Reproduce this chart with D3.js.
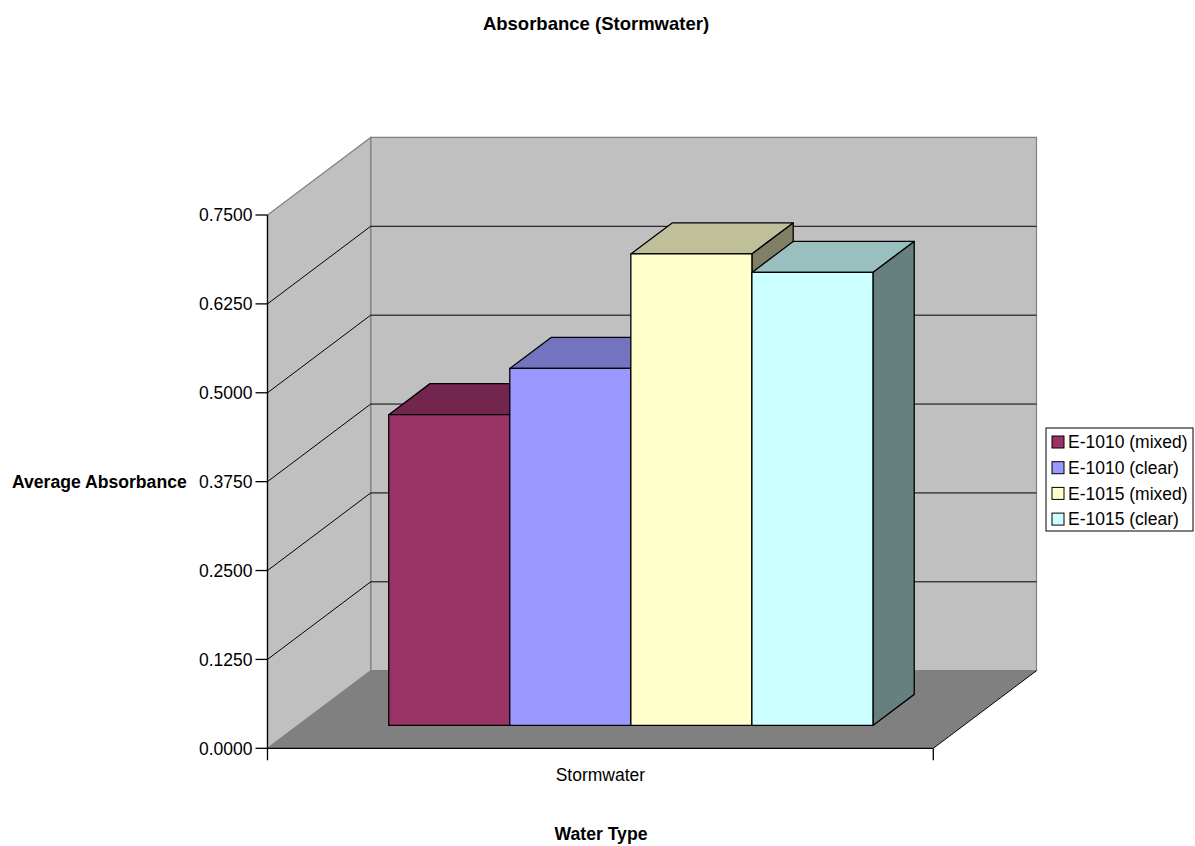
<!DOCTYPE html>
<html>
<head>
<meta charset="utf-8">
<script src="https://cdn.jsdelivr.net/npm/d3@7"></script>
<style>
  html, body { margin: 0; padding: 0; background: #ffffff; }
  svg { display: block; }
  text { font-family: "Liberation Sans", Arial, sans-serif; fill: #000; }
</style>
</head>
<body>
<svg id="chart" width="1195" height="846"></svg>
<script>
// ---- data ----
const categories = ["Stormwater"];
const seriesNames = ["E-1010 (mixed)", "E-1010 (clear)", "E-1015 (mixed)", "E-1015 (clear)"];
const seriesValues = [0.437, 0.502, 0.663, 0.637];
const seriesColors = ["#993366", "#9999FF", "#FFFFCC", "#CCFFFF"];
const yTicks = [0, 0.125, 0.25, 0.375, 0.5, 0.625, 0.75];
const chartTitle = "Absorbance (Stormwater)";
const xTitle = "Water Type";
const yTitle = "Average Absorbance";

// ---- geometry of the 3D box ----
const frontLeft = 267.5, frontRight = 933.3;
const frontBottom = 748.3, frontTop = 215;
const depthDX = 103.2, depthDY = -77.6;   // full depth offset
const barZ0 = 0.295, barZ1 = 0.695;       // bar depth span (fraction of depth)

const svg = d3.select("#chart");

const y = d3.scaleLinear().domain([0, 0.75]).range([frontBottom, frontTop]);
const xCat = d3.scaleBand().domain(categories).range([frontLeft, frontRight]).padding(0);
const xSer = d3.scaleBand().domain(seriesNames)
  .range([xCat(categories[0]), xCat(categories[0]) + xCat.bandwidth()])
  .paddingInner(0).paddingOuter(0.75);

// project a point (screen x on the front plane, value, depth fraction)
const P = (x, v, z) => [x + depthDX * z, y(v) - depthDY * -z];
const pts = arr => arr.map(p => p.join(",")).join(" ");

const WALL = "#C0C0C0", FLOOR = "#808080", EDGE = "#808080";

// back wall
svg.append("polygon")
  .attr("points", pts([P(frontLeft, 0, 1), P(frontLeft, 0.75, 1), P(frontRight, 0.75, 1), P(frontRight, 0, 1)]))
  .attr("fill", WALL).attr("stroke", EDGE).attr("stroke-width", 1.2);

// side wall
svg.append("polygon")
  .attr("points", pts([P(frontLeft, 0, 0), P(frontLeft, 0.75, 0), P(frontLeft, 0.75, 1), P(frontLeft, 0, 1)]))
  .attr("fill", WALL).attr("stroke", EDGE).attr("stroke-width", 1.2);

// gridlines on both walls
const grid = yTicks.filter(t => t > 0 && t < 0.75);
svg.append("g").selectAll("polyline").data(grid).join("polyline")
  .attr("points", t => pts([P(frontLeft, t, 0), P(frontLeft, t, 1), P(frontRight, t, 1)]))
  .attr("fill", "none").attr("stroke", "#000").attr("stroke-width", 1);

// floor
svg.append("polygon")
  .attr("points", pts([P(frontLeft, 0, 0), P(frontLeft, 0, 1), P(frontRight, 0, 1), P(frontRight, 0, 0)]))
  .attr("fill", FLOOR).attr("stroke", "none");
svg.append("polyline")
  .attr("points", pts([P(frontRight, 0, 0), P(frontRight, 0, 1)]))
  .attr("fill", "none").attr("stroke", "#000").attr("stroke-width", 1);

// bars
const shade = (c, k) => { const o = d3.rgb(c); return d3.rgb(o.r * k, o.g * k, o.b * k).formatHex(); };
const bars = svg.append("g");
seriesNames.forEach((s, i) => {
  const v = seriesValues[i];
  const x0 = xSer(s), x1 = x0 + xSer.bandwidth();
  const g = bars.append("g").attr("stroke", "#000").attr("stroke-width", 1.3).attr("stroke-linejoin", "round");
  // top face
  g.append("polygon")
    .attr("points", pts([P(x0, v, barZ0), P(x0, v, barZ1), P(x1, v, barZ1), P(x1, v, barZ0)]))
    .attr("fill", shade(seriesColors[i], 0.75));
  // right side face
  g.append("polygon")
    .attr("points", pts([P(x1, 0, barZ0), P(x1, v, barZ0), P(x1, v, barZ1), P(x1, 0, barZ1)]))
    .attr("fill", shade(seriesColors[i], 0.5));
  // front face
  g.append("polygon")
    .attr("points", pts([P(x0, 0, barZ0), P(x0, v, barZ0), P(x1, v, barZ0), P(x1, 0, barZ0)]))
    .attr("fill", seriesColors[i]);
});

// axes
const axes = svg.append("g").attr("stroke", "#000").attr("stroke-width", 1.3);
axes.append("line").attr("x1", frontLeft).attr("x2", frontLeft).attr("y1", y(0.75)).attr("y2", y(0));
axes.append("line").attr("x1", frontLeft).attr("x2", frontRight).attr("y1", y(0)).attr("y2", y(0));
axes.selectAll(".ytick").data(yTicks).join("line")
  .attr("x1", frontLeft - 12).attr("x2", frontLeft).attr("y1", d => y(d)).attr("y2", d => y(d));
[frontLeft, frontRight].forEach(xx => {
  axes.append("line").attr("x1", xx).attr("x2", xx).attr("y1", y(0)).attr("y2", y(0) + 12);
});

// tick labels
svg.append("g").selectAll("text").data(yTicks).join("text")
  .attr("x", frontLeft - 15).attr("y", d => y(d)).attr("dy", "0.36em")
  .attr("text-anchor", "end").attr("font-size", 17.5)
  .text(d => d.toFixed(4));

svg.append("text")
  .attr("x", xCat(categories[0]) + xCat.bandwidth() / 2).attr("y", 781)
  .attr("text-anchor", "middle").attr("font-size", 17.5)
  .text(categories[0]);

// titles
svg.append("text").attr("x", 596).attr("y", 30).attr("text-anchor", "middle")
  .attr("font-size", 18.5).attr("font-weight", "bold").text(chartTitle);
svg.append("text").attr("x", 601).attr("y", 840).attr("text-anchor", "middle")
  .attr("font-size", 17.6).attr("font-weight", "bold").text(xTitle);
svg.append("text").attr("x", 12).attr("y", (y(0) + y(0.75)) / 2).attr("dy", "0.36em")
  .attr("font-size", 17.6).attr("font-weight", "bold").text(yTitle);

// legend
const legend = svg.append("g");
legend.append("rect").attr("x", 1046).attr("y", 428).attr("width", 147).attr("height", 103)
  .attr("fill", "#fff").attr("stroke", "#000").attr("stroke-width", 1);
const row = legend.selectAll("g.row").data(seriesNames).join("g")
  .attr("transform", (d, i) => `translate(0, ${442 + i * 25.7})`);
row.append("rect").attr("x", 1052).attr("y", -6).attr("width", 12).attr("height", 12)
  .attr("fill", (d, i) => seriesColors[i]).attr("stroke", "#000").attr("stroke-width", 1);
row.append("text").attr("x", 1068).attr("y", 0).attr("dy", "0.36em")
  .attr("font-size", 17.5).text(d => d);
</script>
</body>
</html>
